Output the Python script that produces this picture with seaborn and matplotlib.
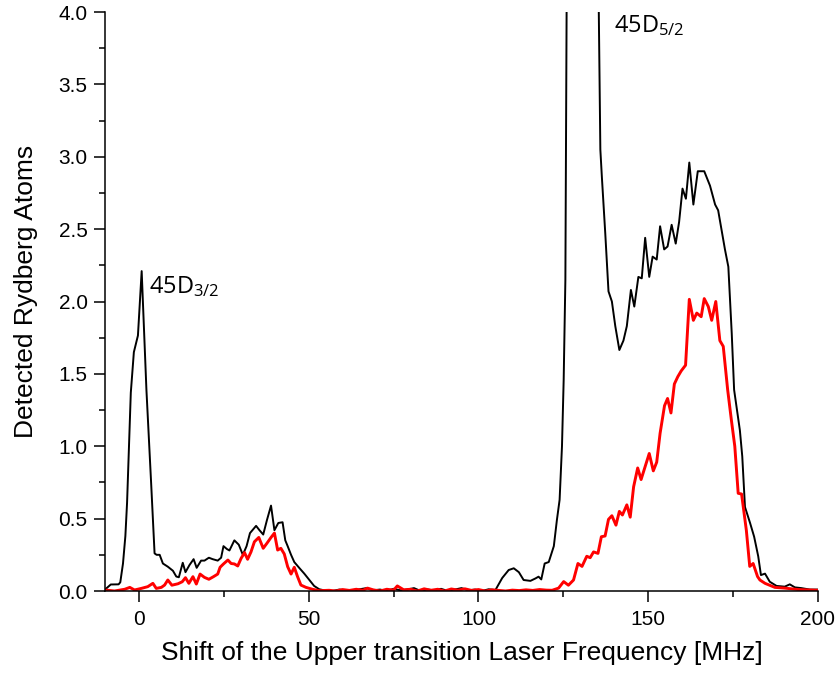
import matplotlib
matplotlib.use("Agg")
import matplotlib.pyplot as plt
from matplotlib.ticker import MultipleLocator, FormatStrFormatter
import pandas as pd
import seaborn as sns

# Black trace: total detected Rydberg atoms
black_x = [-10, -9, -8.3, -6, -5.5, -4.7, -4.0, -3.5, -2.4, -1.5, -0.3, 0.8, 2.2, 3.6,
           4.6, 5.2, 6.1, 7.05, 8.5, 10.0, 11.0, 11.75, 12.9, 13.7, 14.9, 16.1, 17.0,
           18.3, 19.3, 20.6, 21.7, 23.2, 24.2, 24.9, 25.9, 26.65, 28.1, 29.4, 30.6,
           31.7, 32.7, 34.5, 35.5, 36.6, 37.7, 38.9, 39.9, 41.05, 42.3, 43.1, 43.8,
           44.8, 45.75, 47.2, 48.7, 50.2, 51.6, 53.1, 55.1,
           57, 59, 61, 63, 65, 67, 69, 71, 73, 75, 77, 79, 81, 83, 85, 87, 89, 91,
           93, 95, 97, 99, 101, 103,
           105.0, 107.0, 108.9, 110.4, 111.9, 113.3, 115.3, 116.8, 117.7, 118.5,
           119.5, 120.7, 122.2, 123.1, 123.9, 124.6, 125.1, 125.6, 126.0, 126.6,
           127.5, 129, 131, 133, 134.5, 135.3, 135.9, 136.35, 137.35, 138.3, 139.3,
           140.3, 141.5, 142.7, 143.7, 144.9, 145.9, 147.1, 148.1, 149.1, 150.3,
           151.3, 152.5, 153.5, 154.7, 155.7, 156.9, 158.1, 159.1, 160.1, 161.1,
           162.1, 163.3, 164.6, 166.5, 168.2, 169.7, 170.6, 172.6, 173.6, 174.6,
           175.3, 177.0, 177.7, 178.5, 180.0, 181.2, 182.4, 183.2, 184.4, 185.8,
           187.8, 190.2, 191.7, 193.2, 195.1, 197.6, 200]
black_y = [0.01, 0.03, 0.045, 0.046, 0.06, 0.19, 0.38, 0.61, 1.37, 1.65, 1.765, 2.21,
           1.39, 0.74, 0.26, 0.25, 0.25, 0.19, 0.168, 0.14, 0.10, 0.095, 0.195, 0.13,
           0.18, 0.22, 0.16, 0.21, 0.21, 0.23, 0.22, 0.21, 0.23, 0.31, 0.29, 0.28,
           0.35, 0.32, 0.25, 0.31, 0.40, 0.45, 0.42, 0.39, 0.49, 0.59, 0.42, 0.47,
           0.475, 0.35, 0.31, 0.25, 0.20, 0.16, 0.12, 0.076, 0.035, 0.012, 0.002,
           0.0, 0.01, 0.005, 0.0, 0.012, 0.02, 0.005, 0.01, 0.0, 0.015, 0.005, 0.01,
           0.02, 0.0, 0.01, 0.005, 0.015, 0.0, 0.01, 0.02, 0.005, 0.01, 0.0, 0.012,
           0.007, 0.09, 0.145, 0.157, 0.13, 0.076, 0.07, 0.087, 0.099, 0.08,
           0.19, 0.20, 0.31, 0.49, 0.63, 1.0, 1.46, 2.15, 4.2, 5.5,
           6.6, 7.2, 7.3, 6.8, 5.8, 4.3, 3.05, 2.86, 2.47, 2.07, 2.0,
           1.83, 1.665, 1.73, 1.83, 2.08, 1.965, 2.17, 2.16, 2.44, 2.17,
           2.31, 2.29, 2.52, 2.36, 2.38, 2.53, 2.40, 2.55, 2.78, 2.71,
           2.96, 2.67, 2.90, 2.90, 2.80, 2.67, 2.63, 2.36, 2.24, 1.78,
           1.39, 1.11, 0.93, 0.58, 0.47, 0.375, 0.24, 0.11, 0.12, 0.064,
           0.035, 0.03, 0.046, 0.025, 0.02, 0.01, 0.01]

# Red trace
red_x = [-10, -7.2, -4.2, -2.7, -1.3, 0.7, 2.6, 4.1, 5.1, 6.6, 7.55, 8.5, 9.7, 11.5,
         12.75, 13.7, 14.7, 15.9, 16.9, 18.0, 19.3, 20.6, 21.95, 23.2, 23.9, 24.9,
         26.2, 27.15, 28.1, 29.1, 30.1, 31.1, 32.0, 33.0, 34.0, 35.3, 36.6, 37.7,
         38.9, 39.9, 40.85, 41.8, 42.8, 43.8, 44.8, 45.75, 46.7, 47.7, 49.2, 51.1,
         53.1,
         56, 58, 60, 62, 64, 66, 67.3, 69, 71, 73, 75, 76.1, 78, 80, 82, 84, 86, 88,
         90, 92, 94, 96, 98, 100, 102, 104, 106, 108, 110, 112, 114, 116, 118, 120,
         121.7, 123.6, 125.1, 126.5, 128.0, 129.3, 130.5, 131.9, 132.9, 133.9,
         135.2, 136.2, 137.3, 138.3, 139.3, 140.5, 141.5, 142.4, 143.7, 144.7,
         145.7, 146.9, 147.9, 149.1, 150.3, 151.5, 152.5, 153.5, 154.8, 155.7,
         156.7, 157.7, 158.7, 159.7, 161.0, 162.1, 163.3, 164.3, 165.6, 166.5,
         167.7, 168.7, 169.9, 171.1, 172.1, 173.4, 174.5, 175.5, 176.5, 177.5,
         178.9, 179.9, 180.9, 182.2, 182.9, 184.4, 187.3, 190.2, 194.2, 200]
red_y = [0.007, 0.0, 0.012, 0.025, 0.007, 0.018, 0.03, 0.053, 0.018, 0.025, 0.041,
         0.076, 0.04, 0.05, 0.064, 0.092, 0.053, 0.099, 0.048, 0.117, 0.094, 0.081,
         0.099, 0.117, 0.164, 0.187, 0.214, 0.19, 0.187, 0.173, 0.226, 0.265, 0.219,
         0.27, 0.34, 0.37, 0.295, 0.33, 0.37, 0.40, 0.283, 0.295, 0.256, 0.168,
         0.117, 0.164, 0.10, 0.041, 0.025, 0.012, 0.002,
         0.005, 0.0, 0.01, 0.004, 0.012, 0.005, 0.02, 0.008, 0.0, 0.012, 0.006,
         0.035, 0.008, 0.012, 0.0, 0.015, 0.005, 0.012, 0.0, 0.014, 0.006, 0.015,
         0.004, 0.01, 0.0, 0.008, 0.004, 0.0, 0.006, 0.003, 0.008, 0.004, 0.01,
         0.006,
         0.005, 0.02, 0.065, 0.04, 0.076, 0.19, 0.17, 0.24, 0.23, 0.27,
         0.26, 0.375, 0.38, 0.495, 0.52, 0.455, 0.55, 0.525, 0.595, 0.51,
         0.72, 0.85, 0.77, 0.86, 0.95, 0.83, 0.89, 1.09, 1.28, 1.33,
         1.23, 1.43, 1.48, 1.52, 1.56, 2.015, 1.87, 1.92, 1.895, 2.02,
         1.965, 1.87, 2.0, 1.73, 1.69, 1.39, 1.18, 1.0, 0.675, 0.67,
         0.42, 0.17, 0.19, 0.10, 0.076, 0.053, 0.025, 0.02, 0.01, 0.005]

x_label = "Shift of the Upper transition Laser Frequency [MHz]"
y_label = "Detected Rydberg Atoms"
peak_labels = [r"45D$_{\mathrm{3/2}}$", r"45D$_{\mathrm{5/2}}$"]
peak_label_pos = [(3.1, 2.06), (139.8, 3.86)]

sns.set_style("ticks")
plt.rcParams["font.family"] = ["Liberation Sans", "DejaVu Sans"]
plt.rcParams["mathtext.fontset"] = "custom"
plt.rcParams["mathtext.rm"] = "Open Sans"
plt.rcParams["mathtext.it"] = "Open Sans"
for key in ("text.color", "axes.labelcolor", "xtick.color", "ytick.color",
            "axes.edgecolor"):
    plt.rcParams[key] = "black"

black_df = pd.DataFrame({"shift": black_x, "atoms": black_y})
red_df = pd.DataFrame({"shift": red_x, "atoms": red_y})

fig = plt.figure(figsize=(8.38, 6.79), dpi=100)
ax = fig.add_axes([0.1253, 0.1296, 0.8508, 0.8527])

sns.lineplot(data=black_df, x="shift", y="atoms", ax=ax, color="black",
             linewidth=1.4, estimator=None, sort=False)
sns.lineplot(data=red_df, x="shift", y="atoms", ax=ax, color="#ff0000",
             linewidth=2.1, estimator=None, sort=False)

ax.set_xlim(-10, 200)
ax.set_ylim(0, 4.0)
ax.xaxis.set_major_locator(MultipleLocator(50))
ax.xaxis.set_minor_locator(MultipleLocator(25))
ax.yaxis.set_major_locator(MultipleLocator(0.5))
ax.yaxis.set_minor_locator(MultipleLocator(0.25))
ax.yaxis.set_major_formatter(FormatStrFormatter("%.1f"))

for side in ("top", "right"):
    ax.spines[side].set_visible(False)
for side in ("left", "bottom"):
    ax.spines[side].set_linewidth(1.1)
    ax.spines[side].set_color("black")

ax.tick_params(which="major", direction="out", length=8, width=1.1,
               labelsize=15, colors="black")
ax.tick_params(axis="y", which="major", pad=4.5)
ax.tick_params(axis="x", which="major", pad=6)
ax.tick_params(which="minor", direction="out", length=4.3, width=1.1)

ax.set_xlabel(x_label, fontsize=19, labelpad=8)
ax.set_ylabel(y_label, fontsize=19)
ax.yaxis.set_label_coords(-0.094, 0.518)

for text, (tx, ty) in zip(peak_labels, peak_label_pos):
    ax.text(tx, ty, text, fontsize=17, family="Open Sans", ha="left", va="baseline")

fig.savefig("out.png", dpi=100)
